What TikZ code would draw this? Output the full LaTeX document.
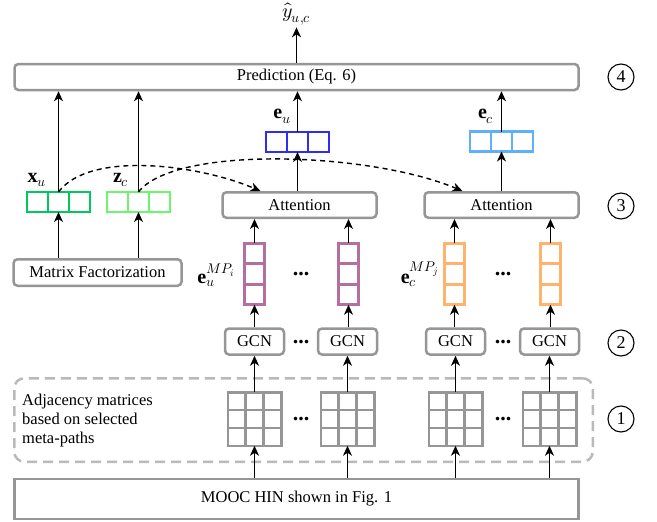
\documentclass[tikz,border=0pt]{standalone}
\usepackage{fontspec}
\usepackage{unicode-math}
\setmainfont{Liberation Serif}
\setmathfont{Latin Modern Math}
\usetikzlibrary{arrows.meta,calc}
\definecolor{boxgray}{RGB}{150,150,150}
\definecolor{dashgray}{RGB}{185,185,185}
\definecolor{xgreen}{RGB}{0,200,95}
\definecolor{zgreen}{RGB}{110,245,110}
\definecolor{eublue}{RGB}{45,45,245}
\definecolor{ecblue}{RGB}{95,175,250}
\definecolor{mppurple}{RGB}{180,110,160}
\definecolor{mporange}{RGB}{255,180,110}
\begin{document}
\begin{tikzpicture}[x=1pt,y=-1pt,
  every node/.style={font=\fontsize{16.5}{19}\selectfont},
  gbox/.style={draw=boxgray, line width=2.5pt, rounded corners=4pt, fill=white, inner sep=0pt},
  hvec/.style={draw=#1, line width=2.6pt, minimum width=63pt, minimum height=20pt, inner sep=0pt, outer sep=0pt},
  vvec/.style={draw=#1, line width=2.6pt, minimum width=20.5pt, minimum height=61.5pt, inner sep=0pt, outer sep=0pt},
  matbox/.style={draw=boxgray, line width=2.5pt, minimum width=53.5pt, minimum height=53.5pt, inner sep=0pt, outer sep=0pt},
  arr/.style={-{Stealth[length=10pt,width=9pt,inset=3pt]}, line width=1.4pt},
  dasharr/.style={arr, dash pattern=on 5pt off 4pt},
  numcirc/.style={draw, circle, line width=1.1pt, minimum size=26pt, inner sep=0pt, font=\fontsize{18}{18}\selectfont},
  dotsnode/.style={font=\fontsize{22}{22}\selectfont\bfseries, inner sep=0pt},
  lbl/.style={inner sep=1pt, font=\fontsize{20}{22}\selectfont}
]
\useasboundingbox (0,0) rectangle (657,522);

% dashed region
\node[draw=dashgray, line width=2.5pt, dash pattern=on 10pt off 6pt, rounded corners=10pt,
      minimum width=578.5pt, minimum height=83.5pt, inner sep=0pt] (region) at (303.5,420) {};
\node[anchor=west, align=left, inner sep=0pt] (adjtxt) at (22,421) {Adjacency matrices\\based on selected\\meta-paths};

% bottom box
\node[draw=boxgray, line width=2.5pt, minimum width=564pt, minimum height=40pt, inner sep=0pt] (mooc) at (296.5,499) {MOOC HIN shown in Fig. 1};

% matrices
\node[matbox] (m1) at (254.5,419) {};
\node[matbox] (m2) at (347.5,419) {};
\node[matbox] (m3) at (455.5,419) {};
\node[matbox] (m4) at (549.5,419) {};
\foreach \n in {m1,m2,m3,m4}{
  \foreach \f in {1,2}{
    \draw[boxgray, line width=2.5pt] ($(\n.north west)!\f/3!(\n.north east)$) -- ($(\n.south west)!\f/3!(\n.south east)$);
    \draw[boxgray, line width=2.5pt] ($(\n.north west)!\f/3!(\n.south west)$) -- ($(\n.north east)!\f/3!(\n.south east)$);
  }
}
\node[dotsnode] (dm1) at (301,419) {...};
\node[dotsnode] (dm2) at (503,419) {...};

% GCN
\node[gbox, minimum width=59pt, minimum height=26pt] (g1) at (254.5,341.5) {GCN};
\node[gbox, minimum width=59pt, minimum height=26pt] (g2) at (347.5,341.5) {GCN};
\node[gbox, minimum width=59pt, minimum height=26pt] (g3) at (455.5,341.5) {GCN};
\node[gbox, minimum width=59pt, minimum height=26pt] (g4) at (549.5,341.5) {GCN};
\node[dotsnode] (dg1) at (301,342) {...};
\node[dotsnode] (dg2) at (503,342) {...};

% meta-path vectors
\node[vvec=mppurple] (p1) at (254.5,274) {};
\node[vvec=mppurple] (p2) at (348.5,274) {};
\node[vvec=mporange] (o1) at (454.5,274) {};
\node[vvec=mporange] (o2) at (550.5,274) {};
\foreach \n/\c in {p1/mppurple,p2/mppurple,o1/mporange,o2/mporange}{
  \foreach \f in {1,2}{
    \draw[\c, line width=2.6pt] ($(\n.north west)!\f/3!(\n.south west)$) -- ($(\n.north east)!\f/3!(\n.south east)$);
  }
}
\node[dotsnode] (dp1) at (301,274) {...};
\node[dotsnode] (dp2) at (503,274) {...};
\node[lbl] (lmpi) at (216,275) {$\mathbf{e}_u^{MP_i}$};
\node[lbl] (lmpj) at (420,274) {$\mathbf{e}_c^{MP_j}$};

% attention
\node[gbox, minimum width=154pt, minimum height=25.5pt] (att1) at (299.5,205) {Attention};
\node[gbox, minimum width=154pt, minimum height=25.5pt] (att2) at (501.5,205) {Attention};

% matrix factorization
\node[gbox, minimum width=168pt, minimum height=26.5pt] (mf) at (97.5,272.5) {Matrix Factorization};

% horizontal vectors
\node[hvec=xgreen] (xu) at (58.5,202) {};
\node[hvec=zgreen] (zc) at (138.5,202) {};
\node[hvec=eublue] (eu) at (297.5,142) {};
\node[hvec=ecblue] (ec) at (501.5,141.5) {};
\foreach \n/\c in {xu/xgreen,zc/zgreen,eu/eublue,ec/ecblue}{
  \foreach \f in {1,2}{
    \draw[\c, line width=2.6pt] ($(\n.north west)!\f/3!(\n.north east)$) -- ($(\n.south west)!\f/3!(\n.south east)$);
  }
}
\node[lbl] (lxu) at (37,180) {$\mathbf{x}_u$};
\node[lbl] (lzc) at (121,180) {$\mathbf{z}_c$};
\node[lbl] (leu) at (282,116) {$\mathbf{e}_u$};
\node[lbl] (lec) at (486,116) {$\mathbf{e}_c$};

% prediction
\node[gbox, minimum width=564pt, minimum height=26pt] (pred) at (296.5,77) {Prediction (Eq. 6)};
\node[lbl, inner sep=2pt] (yhat) at (296.5,14) {$\hat{y}_{u,c}$};

% step circles
\node[numcirc] (c4) at (621,77) {4};
\node[numcirc] (c3) at (621,206) {3};
\node[numcirc] (c2) at (621,343) {2};
\node[numcirc] (c1) at (621,419) {1};

% arrows bottom -> matrices
\foreach \m in {m1,m2,m3,m4}{
  \draw[arr] (mooc.north -| \m.south) -- (\m.south);
}
% matrices -> GCN
\foreach \m/\g in {m1/g1,m2/g2,m3/g3,m4/g4}{
  \draw[arr] (\m.north) -- (\m.north |- \g.south);
}
% GCN -> vectors
\foreach \g/\v in {g1/p1,g2/p2,g3/o1,g4/o2}{
  \draw[arr] (\g.north -| \v.south) -- (\v.south);
}
% vectors -> attention
\foreach \v/\a in {p1/att1,p2/att1,o1/att2,o2/att2}{
  \draw[arr] (\v.north) -- (\v.north |- \a.south);
}
% attention -> e
\draw[arr] (att1.north -| eu.south) -- (eu.south);
\draw[arr] (att2.north -| ec.south) -- (ec.south);
% e -> prediction
\draw[arr] (eu.north) -- (eu.north |- pred.south);
\draw[arr] (ec.north) -- (ec.north |- pred.south);
% MF -> x, z
\draw[arr] (mf.north -| xu.south) -- (xu.south);
\draw[arr] (mf.north -| zc.south) -- (zc.south);
% x, z -> prediction
\draw[arr] (xu.north) -- (xu.north |- pred.south);
\draw[arr] (zc.north) -- (zc.north |- pred.south);
% prediction -> yhat
\draw[arr] (pred.north) -- (yhat.south);

% dashed curves
\coordinate (t1) at ($(att1.north west)!0.25!(att1.north east)$);
\coordinate (t2) at ($(att2.north west)!0.25!(att2.north east)$);
\draw[dasharr] (xu.north) .. controls (90,150) and (200,165) .. (t1);
\draw[dasharr] (zc.north) .. controls (175,145) and (370,152) .. (t2);
\end{tikzpicture}
\end{document}
